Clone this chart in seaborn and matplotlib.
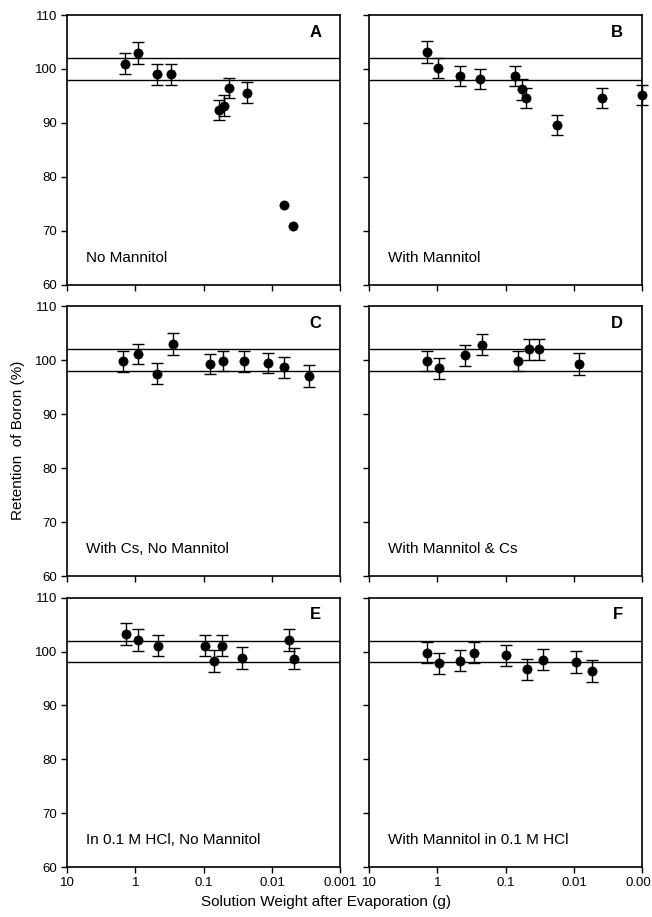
import numpy as np
import pandas as pd
import seaborn as sns
import matplotlib.pyplot as plt
from matplotlib.ticker import FixedLocator, NullLocator

# panel A - no mannitol
a_x = [1.42, 0.93, 0.48, 0.30, 0.059, 0.050, 0.042, 0.023, 0.0067, 0.0049]
a_y = [101.0, 103.0, 99.0, 99.0, 92.4, 93.2, 96.5, 95.6, 74.8, 70.8]
a_err = [2.0, 2.0, 2.0, 2.0, 1.9, 1.9, 1.8, 1.9, np.nan, np.nan]

# panel B - with mannitol
b_x = [1.44, 0.99, 0.47, 0.235, 0.072, 0.058, 0.050, 0.0178, 0.0039, 0.001]
b_y = [103.1, 100.2, 98.7, 98.1, 98.7, 96.2, 94.6, 89.6, 94.6, 95.2]
b_err = [2.0, 1.9, 1.9, 1.9, 1.9, 1.9, 1.9, 1.9, 1.8, 1.9]

# panel C - with Cs, no mannitol
c_x = [1.51, 0.93, 0.49, 0.28, 0.081, 0.053, 0.026, 0.0116, 0.0066, 0.0029]
c_y = [99.8, 101.2, 97.5, 103.0, 99.3, 99.9, 99.8, 99.5, 98.7, 97.1]
c_err = [2.0, 1.9, 1.9, 2.0, 1.9, 1.9, 1.9, 1.9, 1.9, 2.0]

# panel D - with mannitol & Cs
d_x = [1.44, 0.94, 0.40, 0.22, 0.066, 0.045, 0.032, 0.0083]
d_y = [99.9, 98.5, 100.9, 102.9, 99.9, 102.0, 102.0, 99.3]
d_err = [1.8, 1.9, 2.0, 2.0, 1.8, 1.9, 1.9, 2.0]

# panel E - in 0.1 M HCl, no mannitol
e_x = [1.39, 0.92, 0.47, 0.095, 0.071, 0.054, 0.0274, 0.0056, 0.0047]
e_y = [103.2, 102.1, 101.1, 101.1, 98.2, 101.1, 98.8, 102.1, 98.7]
e_err = [2.0, 2.0, 2.0, 2.0, 2.0, 2.0, 2.0, 2.0, 2.0]

# panel F - with mannitol in 0.1 M HCl
f_x = [1.44, 0.95, 0.47, 0.29, 0.10, 0.049, 0.028, 0.0093, 0.0055]
f_y = [99.8, 97.8, 98.3, 99.8, 99.3, 96.7, 98.5, 98.1, 96.4]
f_err = [1.9, 2.0, 2.0, 2.0, 2.0, 1.9, 2.0, 2.0, 2.0]

letters = ["A", "B", "C", "D", "E", "F"]
conditions = [
    "No Mannitol",
    "With Mannitol",
    "With Cs, No Mannitol",
    "With Mannitol & Cs",
    "In 0.1 M HCl, No Mannitol",
    "With Mannitol in 0.1 M HCl",
]
panels = [(a_x, a_y, a_err), (b_x, b_y, b_err), (c_x, c_y, c_err),
          (d_x, d_y, d_err), (e_x, e_y, e_err), (f_x, f_y, f_err)]

x_ticks = [10, 1, 0.1, 0.01, 0.001]
x_ticklabels = ["10", "1", "0.1", "0.01", "0.001"]
y_ticks = [60, 70, 80, 90, 100, 110]
band = [98, 102]

sns.set_style("ticks")
plt.rcParams["font.family"] = ["Liberation Sans", "DejaVu Sans"]
plt.rcParams["text.color"] = "black"
plt.rcParams["axes.labelcolor"] = "black"

fig, axes = plt.subplots(3, 2, figsize=(6.52, 9.17), dpi=100)
fig.subplots_adjust(left=0.103, right=0.985, top=0.9836, bottom=0.0542,
                    wspace=0.106, hspace=0.08)

for i, ax in enumerate(axes.flat):
    px, py, perr = panels[i]
    df = pd.DataFrame({"weight": px, "retention": py, "err": perr})

    for level in band:
        ax.axhline(level, color="black", linewidth=1.0, zorder=1)

    ok = df[np.isfinite(df["err"])]
    ax.errorbar(ok["weight"], ok["retention"], yerr=ok["err"], fmt="none",
                ecolor="black", elinewidth=1.0, capsize=4, capthick=1.0,
                clip_on=False, zorder=2)
    sns.scatterplot(data=df, x="weight", y="retention", ax=ax, color="black",
                    s=44, edgecolor="black", linewidth=0.5, legend=False,
                    clip_on=False, zorder=3)

    ax.set_xscale("log")
    ax.set_xlim(10, 0.001)
    ax.set_ylim(60, 110)
    ax.xaxis.set_major_locator(FixedLocator(x_ticks))
    ax.xaxis.set_minor_locator(NullLocator())
    ax.set_yticks(y_ticks)
    ax.set_xlabel("")
    ax.set_ylabel("")

    if i >= 4:
        ax.set_xticklabels(x_ticklabels)
    else:
        ax.set_xticklabels([])
    if i % 2 == 1:
        ax.set_yticklabels([])

    ax.tick_params(axis="both", direction="out", length=4, width=1.0,
                   labelsize=9.5, colors="black", pad=3)
    for sp in ax.spines.values():
        sp.set_visible(True)
        sp.set_linewidth(1.2)
        sp.set_color("black")

    ax.text(0.93, 0.92, letters[i], transform=ax.transAxes, ha="right",
            va="baseline", fontsize=12, fontweight="bold", color="black")
    ax.text(0.07, 0.085, conditions[i], transform=ax.transAxes, ha="left",
            va="baseline", fontsize=11, color="black")

fig.text(0.5, 0.012, "Solution Weight after Evaporation (g)", ha="center",
         va="baseline", fontsize=11, color="black")
fig.text(0.028, 0.52, "Retention  of Boron (%)", rotation=90, ha="center",
         va="center", fontsize=11, color="black")

plt.savefig("out.png", dpi=100)
plt.close()
